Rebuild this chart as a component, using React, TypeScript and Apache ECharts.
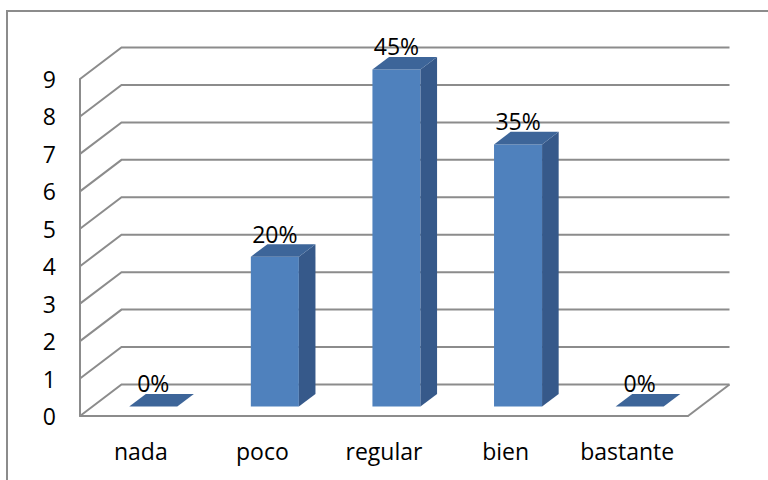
import React, { useEffect, useRef } from "react";
import * as echarts from "echarts";

// Answer categories and how many responses fell in each
const categories = ["nada", "poco", "regular", "bien", "bastante"];
const counts = [0, 4, 9, 7, 0];

// Value axis range
const yMin = 0;
const yMax = 9;
const yStep = 1;
const gridLevels = [0, 1, 2, 3, 4, 5, 6, 7, 8, 9];

// Pseudo-3D projection: offset from the front plane to the back wall
const DEPTH_X = 41.5;
const DEPTH_Y = -31.5;
const BAR_FRONT = 0.3;
const BAR_BACK = 0.7;
const BAR_WIDTH = 0.395;

const LINE_GRAY = "#8c8c8c";
const FONT = "'Open Sans', 'Noto Sans', sans-serif";
const FONT_SIZE = 23;

const total = counts.reduce((a, b) => a + b, 0);
const percentLabels = counts.map((c) => `${Math.round((c / total) * 100)}%`);

export default function App() {
  const ref = useRef<HTMLDivElement>(null);

  useEffect(() => {
    if (!ref.current) return;
    const chart = echarts.init(ref.current, undefined, { renderer: "svg" });

    const option: any = {
      animation: false,
      backgroundColor: "#ffffff",
      textStyle: { fontFamily: FONT },
      grid: { left: 80, right: 80, top: 79, bottom: 64 },
      graphic: [
        {
          type: "rect",
          shape: { x: 7, y: 11, width: 800, height: 520 },
          style: { fill: "none", stroke: LINE_GRAY, lineWidth: 2 },
          silent: true,
        },
      ],
      xAxis: {
        type: "category",
        data: categories,
        boundaryGap: true,
        axisLine: { show: true, lineStyle: { color: LINE_GRAY, width: 2 } },
        axisTick: { show: false },
        axisLabel: {
          interval: 0,
          hideOverlap: false,
          color: "#000000",
          fontSize: FONT_SIZE,
          fontFamily: FONT,
          margin: 23,
        },
        splitLine: { show: false },
      },
      yAxis: {
        type: "value",
        min: yMin,
        max: yMax,
        interval: yStep,
        axisLine: { show: true, lineStyle: { color: LINE_GRAY, width: 2 } },
        axisTick: { show: false },
        splitLine: { show: false },
        axisLabel: {
          color: "#000000",
          fontSize: FONT_SIZE,
          fontFamily: FONT,
          margin: 24,
        },
      },
      series: [
        {
          // Side wall diagonals, back wall gridlines and the floor edge
          type: "custom",
          coordinateSystem: "cartesian2d",
          silent: true,
          data: gridLevels.map((v) => [0, v]),
          encode: { x: 0, y: 1 },
          renderItem: (params: any, api: any) => {
            const v = api.value(1);
            const cs = params.coordSys;
            const left = cs.x;
            const right = cs.x + cs.width;
            const y = api.coord([0, v])[1];
            const children: any[] = [
              {
                type: "polyline",
                shape: {
                  points: [
                    [left, y],
                    [left + DEPTH_X, y + DEPTH_Y],
                    [right + DEPTH_X, y + DEPTH_Y],
                  ],
                },
                style: { stroke: LINE_GRAY, lineWidth: 2, fill: "none" },
              },
            ];
            if (v === yMin) {
              children.push({
                type: "line",
                shape: {
                  x1: right,
                  y1: y,
                  x2: right + DEPTH_X,
                  y2: y + DEPTH_Y,
                },
                style: { stroke: LINE_GRAY, lineWidth: 2 },
              });
            }
            return { type: "group", children };
          },
          z: 1,
        },
        {
          // Prism bars with percentage labels
          type: "custom",
          coordinateSystem: "cartesian2d",
          data: counts.map((c, i) => [i, c]),
          encode: { x: 0, y: 1 },
          renderItem: (params: any, api: any) => {
            const idx = api.value(0);
            const v = api.value(1);
            const base = api.coord([idx, 0]);
            const top = api.coord([idx, v]);
            const bw = api.size([1, 0])[0] * BAR_WIDTH;
            const fx = BAR_FRONT * DEPTH_X;
            const fy = BAR_FRONT * DEPTH_Y;
            const dx = (BAR_BACK - BAR_FRONT) * DEPTH_X;
            const dy = (BAR_BACK - BAR_FRONT) * DEPTH_Y;
            const xl = base[0] - bw / 2 + fx;
            const xr = base[0] + bw / 2 + fx;
            const yb = base[1] + fy;
            const yt = top[1] + fy;
            return {
              type: "group",
              children: [
                {
                  type: "polygon",
                  shape: { points: [[xl, yt], [xr, yt], [xr, yb], [xl, yb]] },
                  style: { fill: "#4F81BD" },
                },
                {
                  type: "polygon",
                  shape: {
                    points: [
                      [xr, yt],
                      [xr + dx, yt + dy],
                      [xr + dx, yb + dy],
                      [xr, yb],
                    ],
                  },
                  style: { fill: "#36598A" },
                },
                {
                  type: "polygon",
                  shape: {
                    points: [
                      [xl, yt],
                      [xr, yt],
                      [xr + dx, yt + dy],
                      [xl + dx, yt + dy],
                    ],
                  },
                  style: { fill: "#3D6599" },
                },
                {
                  type: "text",
                  x: (xl + xr) / 2,
                  y: yt + dy + 1,
                  style: {
                    text: percentLabels[idx],
                    fill: "#000000",
                    font: `${FONT_SIZE}px ${FONT}`,
                    align: "center",
                    verticalAlign: "bottom",
                  },
                },
              ],
            };
          },
          z: 3,
        },
      ],
    };

    chart.setOption(option);
    return () => chart.dispose();
  }, []);

  return (
    <div
      ref={ref}
      style={{ position: "fixed", left: 0, top: 0, width: 768, height: 480 }}
    />
  );
}
